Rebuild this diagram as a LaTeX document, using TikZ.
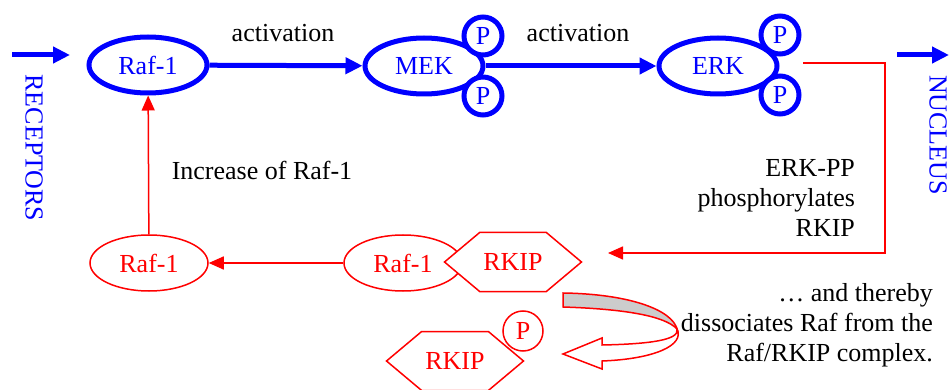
\documentclass[tikz,border=0pt]{standalone}
\usepackage{fontspec}
\setmainfont{Liberation Serif}
\usetikzlibrary{arrows.meta}
\usetikzlibrary{shapes.geometric,shapes.symbols}

\tikzset{
	blauEll/.style={ellipse,draw=blue,line width=2.5pt,text=blue,fill=white,minimum width=59pt,minimum height=28pt,inner sep=0pt},
	blauP/.style={circle,draw=blue,line width=2.5pt,text=blue,fill=white,minimum size=19pt,inner sep=0pt},
	rotEll/.style={ellipse,draw=red,line width=0.75pt,text=red,fill=white,minimum width=59pt,minimum height=28pt,inner sep=0pt},
	rotP/.style={circle,draw=red,line width=0.75pt,text=red,fill=white,minimum size=20pt,inner sep=0pt},
	rkip/.style={signal,signal to=west and east,signal pointer angle=80,draw=red,line width=0.75pt,text=red,fill=white,minimum width=68.5pt,minimum height=29.5pt,inner sep=0pt},
	blauPfeil/.style={draw=blue,line width=2.5pt,-{Triangle[length=8.5pt,width=8pt]}},
	rotPfeil/.style={draw=red,line width=0.75pt,-{Triangle[length=7.5pt,width=6.5pt]}},
	blauText/.style={text=blue,rotate=-90}
}

\begin{document}
\begin{tikzpicture}[x=0.5pt,y=-0.5pt,every node/.style={font=\fontsize{13}{15}\selectfont}]
	\useasboundingbox (0,0) rectangle (949,390);
	\coordinate (rezStart) at (12,55);
	\coordinate (rezEnde) at (70,55);
	\coordinate (kernStart) at (897,55);
	\coordinate (kernEnde) at (949,55);
	\coordinate (erkAus) at (803,63);
	\coordinate (erkEcke) at (885,63);
	\coordinate (rkipEin) at (608,253);
	\node[blauEll] (raf) at (148,65) {Raf-1};
	\node[blauEll] (mek) at (424,66) {MEK};
	\node[blauEll] (erk) at (718,66) {ERK};
	\draw[blauPfeil] (rezStart) -- (rezEnde);
	\draw[blauPfeil] (kernStart) -- (kernEnde);
	\draw[blauPfeil] (raf) -- (mek);
	\draw[blauPfeil] (mek.east) -- (erk);
	\node[blauP] (mekP1) at (483,36) {P};
	\node[blauP] (mekP2) at (483,96) {P};
	\node[blauP] (erkP1) at (780,35) {P};
	\node[blauP] (erkP2) at (780,95) {P};
	\node (akt1) at (283,33) {activation};
	\node (akt2) at (578,33) {activation};
	\node[blauText] (rez) at (34,148) {RECEPTORS};
	\node[blauText] (kern) at (938,135) {NUCLEUS};
	\node[rotEll] (rafB) at (149,263) {Raf-1};
	\node[rotEll] (rafK) at (403,263) {Raf-1};
	\node[rkip] (rkipK) at (513,262) {RKIP};
	\node[rkip] (rkipF) at (455,361) {RKIP};
	\node[rotP] (rkipP) at (523,331) {P};
	\draw[rotPfeil] (erkAus) -- (erkEcke) |- (rkipEin);
	\draw[rotPfeil] (rafK) -- (rafB);
	\draw[rotPfeil] (rafB) -- (raf);
	\node (mehr) at (262,170) {Increase of Raf-1};
	\node[align=right,anchor=east] (erkText) at (862,198) {ERK-PP\\phosphorylates\\RKIP};
	\node[align=right,anchor=east] (dissText) at (940,325) {… and thereby\\dissociates Raf from the\\Raf/RKIP complex.};
	\draw[red,line width=0.75pt,fill=gray!40] (563,293) -- (563,307) .. controls (625,309) and (665,316) .. (677,329) .. controls (672,310) and (630,294) .. (563,293) -- cycle;
	\draw[red,line width=0.75pt,fill=white] (677,329) .. controls (680,340) and (650,344) .. (602,345) -- (602,338) -- (563,354) -- (602,369) -- (602,361) .. controls (655,359) and (685,345) .. (677,329) -- cycle;
\end{tikzpicture}
\end{document}
